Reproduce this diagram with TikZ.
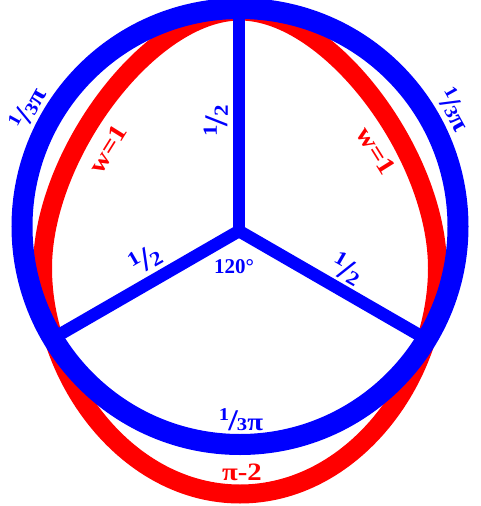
\documentclass[tikz,border=0pt]{standalone}
\usepackage{fontspec}
\setmainfont{Liberation Serif}
\newfontfamily\widefont{Liberation Serif}[FakeStretch=1.15]
\definecolor{bl}{RGB}{0,0,255}
\definecolor{rd}{RGB}{255,0,0}
% fraction built of raised numerator, slash and denominator
\newcommand\mythird{\raisebox{10pt}{\fontsize{18}{18}\selectfont 1}\kern-1pt{\fontsize{30}{30}\selectfont /}\kern-1pt{\fontsize{18}{18}\selectfont 3}}
\newcommand\myhalf{\raisebox{11pt}{\fontsize{20}{20}\selectfont 1}\kern-1pt{\fontsize{33}{33}\selectfont /}\kern-1pt{\fontsize{20}{20}\selectfont 2}}
\begin{document}
\begin{tikzpicture}[x=1pt,y=-1pt,
  ring/.style={draw=bl, line width=21pt},
  spoke/.style={draw=bl, line width=12.5pt, line join=miter},
  redcurve/.style={draw=rd, line width=19pt},
  lab/.style={inner sep=0pt, font=\widefont\bfseries\fontsize{25}{25}\selectfont},
  bluelab/.style={lab, text=bl},
  redlab/.style={lab, text=rd}]
\useasboundingbox (0,0) rectangle (480,506);
% red curve
\coordinate (T) at (240,11);
\coordinate (L) at (42.5,268);
\coordinate (B) at (240,494);
\coordinate (R) at (437.5,268);
\draw[redcurve] (T) .. controls (150,11) and (42.5,155) .. (L)
  .. controls (42.5,380) and (128,494) .. (B)
  .. controls (352,494) and (437.5,380) .. (R)
  .. controls (437.5,155) and (330,11) .. (T) -- cycle;
% blue circle
\coordinate (C) at (240,226.5);
\draw[ring] (C) circle[radius=218pt];
% spokes
\coordinate (H) at (239,231);
\coordinate (U) at (239,8.5);
\coordinate (SL) at (52.9,338.4);
\coordinate (SR) at (426.6,339.3);
\draw[spoke] (SL) -- (H) -- (SR);
\draw[spoke] (H) -- (U);
% labels
\node[bluelab, rotate=61] (a1) at (27,108) {\mythird π};
\node[bluelab, rotate=-61] (a2) at (455,109) {\mythird π};
\node[bluelab] (a3) at (241,420) {\mythird π};
\node[redlab] (pm) at (242,472) {π-2};
\node[redlab, rotate=58] (w1) at (108,149) {w=1};
\node[redlab, rotate=-58] (w2) at (376,151) {w=1};
\node[bluelab, rotate=90] (h1) at (216,121) {\myhalf};
\node[bluelab, rotate=30] (h2) at (145,259) {\myhalf};
\node[bluelab, rotate=-30] (h3) at (347,269) {\myhalf};
\node[bluelab, font=\bfseries\fontsize{21}{21}\selectfont] (ang) at (234,267) {120°};
\end{tikzpicture}
\end{document}
